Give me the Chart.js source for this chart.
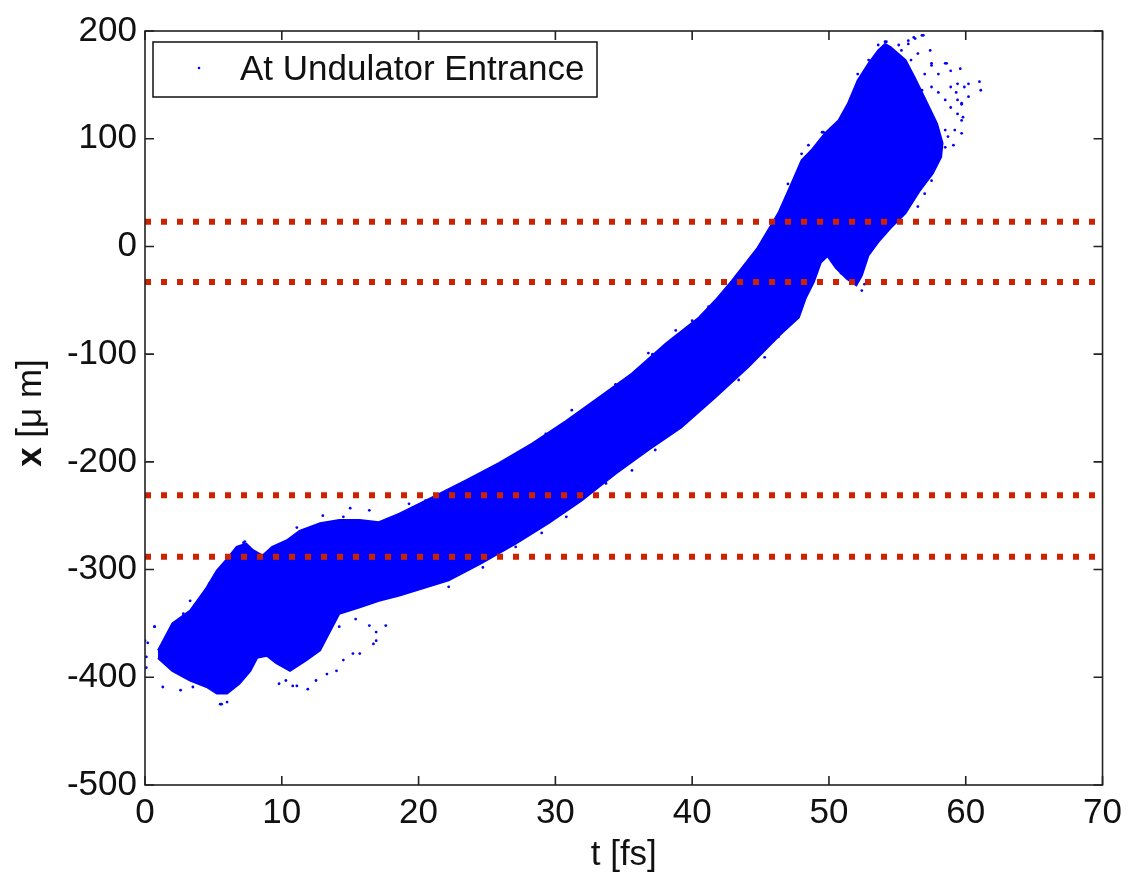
<!DOCTYPE html>
<html>
<head>
<meta charset="utf-8">
<script src="https://cdn.jsdelivr.net/npm/chart.js@4.4.0/dist/chart.umd.min.js"></script>
<style>
  html, body { margin: 0; padding: 0; background: #fff; }
</style>
</head>
<body>
<canvas id="c" width="1129" height="882"></canvas>
<script>
// outline of the dense particle band (t in fs, x in um)
const bandT = [0.95, 2.0, 3.3, 4.5, 5.25, 6.0, 6.7, 7.4, 7.9, 8.6, 9.3, 10.35, 11.3, 12.8, 14.2, 15.7, 17.1, 18.6,
  21.0, 23.5, 25.9, 28.3, 30.8, 33.2, 35.6, 38.1, 40.5, 41.7, 42.9, 44.8, 46.3, 47.25, 48.0, 48.7, 49.7, 50.7,
  51.4, 52.1, 52.9, 53.6, 54.1, 54.5, 55.6, 56.3, 57.1, 57.9, 58.3, 58.2, 57.6, 56.6, 55.6, 54.5, 53.6, 52.9, 52.4,
  52.0, 51.3, 50.5, 49.9, 49.4, 48.9, 48.3,
  47.8, 46.5, 44.1, 41.7, 39.2, 36.8, 34.4, 31.9, 29.5, 27.1, 24.6, 22.2, 18.6, 17.1, 15.7, 14.2, 13.5, 12.8,
  11.8, 10.6, 9.6, 8.9, 8.2, 7.7, 6.9, 6.0, 5.25, 4.5, 3.3, 2.0, 0.95];
const bandX = [-375, -350, -338, -317, -301, -290, -279, -276, -282, -287, -279, -273, -264, -257, -254, -254, -256, -248,
  -233, -217, -201, -183, -162, -140, -118, -90, -66, -50, -32, -1, 31, 58, 80, 89, 105, 117,
  133, 154, 170, 182, 188, 185, 173, 156, 135, 114, 96, 83, 68, 51, 31, 17, 4, -8, -27,
  -36, -30, -20, -9, -15, -33, -48,
  -66, -81, -112, -140, -168, -189, -211, -236, -257, -276, -294, -310, -324, -329, -335, -341, -358, -375,
  -384, -394, -387, -380, -382, -394, -406, -415, -415, -409, -403, -394, -382];

// sparse particles round the dense band
const strayT = [0.1, 0.2, 0.7, 1.3, 2.6, 5.6, 6.0, 9.8, 10.8, 11.9, 12.5, 14.0, 15.7, 16.9, 17.6, 7.3, 29.0, 35.6, 43.4,
  24.4, 31.2, 36.8, 38.8, 47.0, 48.0, 49.6, 53.7, 54.2, 55.1, 55.8, 56.2, 56.9, 57.4, 57.5, 58.0, 58.6, 58.9, 59.3,
  59.4, 59.6, 59.7, 59.8, 59.7, 60.2, 61.0, 61.1, 59.1, 58.5, 58.2, 57.5, 56.0, 55.1, 54.1, 52.6, 52.4, 51.6, 50.9,
  56.3, 56.8, 57.5, 58.0, 58.5, 58.9, 59.4, 59.7, 59.2, 58.7, 58.5, 58.0, 57.7, 57.5, 57.0, 56.5, 57.0, 57.5, 58.5,
  58.9, 59.4, 59.9, 60.2, 59.7, 55.8, 56.3, 56.8, 55.3, 55.5, 56.0, 56.5,
  19.3, 20.5, 23.2, 26.6, 29.3, 33.7, 34.4, 37.1, 40.0, 41.2,
  22.2, 24.7, 27.1, 30.8, 33.7, 37.3, 40.5, 45.3, 46.3,
  0.0, 0.7, 0.1, 3.5, 5.5, 8.9, 10.3, 11.1, 13.3, 14.5, 15.2, 16.7, 16.9, 16.4, 15.4, 14.2, 13.3,
  3.3, 2.8, 2.1, 4.7, 7.2, 11.1, 13.0, 14.5, 15.0, 16.4,
  48.5, 49.5, 52.1, 52.9, 53.6, 54.1];
const strayX = [-381, -368, -353, -409, -412, -425, -423, -406, -408, -411, -403, -394, -378, -366, -352, -274, -266, -208, -124,
  -213, -152, -99, -78, 58, 86, 106, 182, 190, 187, 191, 194, 196, 182, 168, 160, 170, 148, 143,
  136, 165, 132, 120, 105, 151, 153, 145, 94, 108, 95, 74, 49, 24, 12, -35, -41, -32, -25,
  139, 145, 148, 143, 136, 129, 123, 117, 108, 102, 92, 83, 74, 61, 49, 37, 160, 170, 170,
  163, 151, 148, 139, 133, 188, 193, 196, 182, 167, 173, 179,
  -239, -236, -220, -197, -174, -137, -128, -100, -69, -56,
  -316, -298, -279, -251, -220, -189, -152, -103, -84,
  -366, -353, -391, -409, -425, -380, -403, -408, -397, -384, -378, -369, -358, -352, -346, -353, -353,
  -329, -341, -350, -313, -275, -261, -250, -251, -243, -245,
  94, 106, 160, 173, 187, 190];

// red dotted reference levels
const cutLevels = [23, -33, -231, -288];

const tTicks = [0, 10, 20, 30, 40, 50, 60, 70];
const xTicks = [200, 100, 0, -100, -200, -300, -400, -500];

const seriesLabel = 'At Undulator Entrance';
const fontFamily = '"Liberation Sans", Arial, Helvetica, sans-serif';
const fontSize = 35;

const toPoints = (ts, xs) => ts.map((t, i) => ({ x: t, y: xs[i] }));

const datasets = [{
  label: seriesLabel,
  data: toPoints(bandT, bandX),
  showLine: true,
  fill: 'shape',
  backgroundColor: '#0000ff',
  borderColor: '#0000ff',
  borderWidth: 2,
  pointRadius: 0,
  tension: 0,
  order: 2
}, {
  label: 'stray',
  data: toPoints(strayT, strayX),
  backgroundColor: '#0000ff',
  borderColor: '#0000ff',
  pointRadius: 1.4,
  borderWidth: 0,
  order: 2
}];
cutLevels.forEach(lvl => {
  datasets.push({
    label: 'cut ' + lvl,
    data: [{ x: 0, y: lvl }, { x: 70, y: lvl }],
    showLine: true,
    borderColor: '#cc2200',
    borderWidth: 6,
    borderDash: [6, 10],
    borderCapStyle: 'butt',
    pointRadius: 0,
    fill: false,
    order: 0
  });
});

// box around the axes with inward ticks on all four sides (matlab style)
const framePlugin = {
  id: 'frame',
  afterDatasetsDraw(chart) {
    const { ctx, chartArea: a, scales } = chart;
    ctx.save();
    ctx.strokeStyle = '#222';
    ctx.lineWidth = 1.6;
    ctx.strokeRect(a.left, a.top, a.right - a.left, a.bottom - a.top);
    const len = 9;
    ctx.beginPath();
    tTicks.forEach(t => {
      const px = scales.x.getPixelForValue(t);
      ctx.moveTo(px, a.bottom); ctx.lineTo(px, a.bottom - len);
      ctx.moveTo(px, a.top); ctx.lineTo(px, a.top + len);
    });
    xTicks.forEach(v => {
      const py = scales.y.getPixelForValue(v);
      ctx.moveTo(a.left, py); ctx.lineTo(a.left + len, py);
      ctx.moveTo(a.right, py); ctx.lineTo(a.right - len, py);
    });
    ctx.stroke();

    // legend box in the upper left corner
    const lx = a.left + 8, ly = a.top + 11, lw = 444, lh = 55;
    ctx.fillStyle = '#fff';
    ctx.fillRect(lx, ly, lw, lh);
    ctx.lineWidth = 1.5;
    ctx.strokeStyle = '#111';
    ctx.strokeRect(lx, ly, lw, lh);
    ctx.fillStyle = '#0000ff';
    ctx.beginPath();
    ctx.arc(lx + 46, ly + 26, 1.3, 0, Math.PI * 2);
    ctx.fill();
    ctx.fillStyle = '#111';
    ctx.font = fontSize + 'px ' + fontFamily;
    ctx.textBaseline = 'middle';
    ctx.textAlign = 'left';
    ctx.fillText(seriesLabel, lx + 87, ly + 28);

    // y axis title: bold x then the unit
    ctx.translate(31, 413);
    ctx.rotate(-Math.PI / 2);
    ctx.textBaseline = 'middle';
    ctx.font = 'bold ' + fontSize + 'px ' + fontFamily;
    const w1 = ctx.measureText('x').width;
    ctx.font = fontSize + 'px ' + fontFamily;
    const rest = ' [\u03bc m]';
    const w2 = ctx.measureText(rest).width;
    const sx = -(w1 + w2) / 2;
    ctx.font = 'bold ' + fontSize + 'px ' + fontFamily;
    ctx.fillText('x', sx, 0);
    ctx.font = fontSize + 'px ' + fontFamily;
    ctx.fillText(rest, sx + w1, 0);
    ctx.restore();
  }
};

new Chart(document.getElementById('c'), {
  type: 'scatter',
  data: { datasets },
  options: {
    responsive: false,
    animation: false,
    devicePixelRatio: 1,
    layout: { padding: { top: 31, right: 24, left: 0, bottom: 0 } },
    plugins: {
      legend: { display: false },
      tooltip: { enabled: false }
    },
    scales: {
      x: {
        type: 'linear',
        min: 0,
        max: 70,
        afterFit: s => { s.height = 97; },
        afterBuildTicks: s => { s.ticks = tTicks.map(v => ({ value: v })); },
        grid: { display: false, drawTicks: false },
        border: { display: false },
        ticks: { color: '#111', padding: 7, font: { family: fontFamily, size: fontSize } },
        title: {
          display: true,
          text: 't [fs]',
          color: '#111',
          padding: { top: 0, bottom: 6 },
          font: { family: fontFamily, size: fontSize }
        }
      },
      y: {
        type: 'linear',
        min: -500,
        max: 200,
        afterFit: s => { s.width = 145; },
        afterBuildTicks: s => { s.ticks = xTicks.map(v => ({ value: v })); },
        grid: { display: false, drawTicks: false },
        border: { display: false },
        ticks: { color: '#111', padding: 8, font: { family: fontFamily, size: fontSize } }
      }
    }
  },
  plugins: [framePlugin]
});
</script>
</body>
</html>
